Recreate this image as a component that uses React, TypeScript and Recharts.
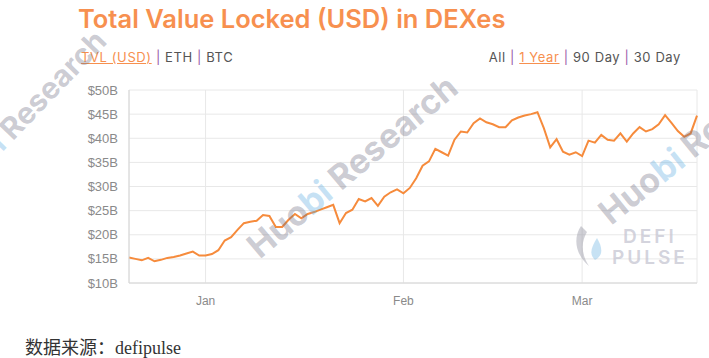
import { LineChart, Line, XAxis, YAxis, CartesianGrid } from 'recharts';

// TVL in billions USD, one reading per day starting 2020-12-20
const startDate = Date.UTC(2020, 11, 20);
const tvl = [
  15.3, 15.0, 14.7, 15.2, 14.5, 14.8, 15.2, 15.4, 15.7, 16.1, 16.5, 15.7,
  15.7, 16.0, 16.8, 18.8, 19.5, 21.0, 22.4, 22.7, 22.9, 24.1, 23.9, 21.6,
  21.6, 23.1, 24.3, 23.4, 24.3, 24.7, 25.2, 25.7, 26.2, 22.4, 24.5, 25.2,
  27.4, 26.9, 27.6, 26.0, 27.9, 28.8, 29.4, 28.6, 29.7, 31.7, 34.3, 35.2,
  37.8, 37.1, 36.4, 39.7, 41.4, 41.2, 43.1, 44.1, 43.3, 42.9, 42.3, 42.3,
  43.7, 44.3, 44.7, 45.0, 45.4, 42.1, 38.1, 39.8, 37.2, 36.6, 37.1, 36.3,
  39.5, 39.1, 40.7, 39.7, 39.5, 41.0, 39.3, 41.0, 42.3, 41.4, 41.9, 42.9,
  44.8, 43.2, 41.5, 40.3, 41.0, 44.7,
];
const monthTicks = [Date.UTC(2021, 0, 1), Date.UTC(2021, 1, 1), Date.UTC(2021, 2, 1)];
const monthLabels = ['Jan', 'Feb', 'Mar'];
const yTicks = [10, 15, 20, 25, 30, 35, 40, 45, 50];

const DAY = 86400000;
const data = tvl.map((v, i) => ({ t: startDate + i * DAY, tvl: v }));

const ORANGE = '#f7904f';
const PIPE = '#9a5aa8';

function Watermark({ x, y, size, angle }: { x: number; y: number; size: number; angle: number }) {
  return (
    <div
      style={{
        position: 'absolute',
        left: x,
        top: y,
        transform: `translate(-50%, -50%) rotate(${angle}deg)`,
        whiteSpace: 'nowrap',
        fontFamily: 'Inter, sans-serif',
        fontWeight: 700,
        fontSize: size,
        color: 'rgba(110, 110, 130, 0.36)',
        pointerEvents: 'none',
      }}
    >
      Huo<span style={{ color: 'rgba(90, 170, 225, 0.35)' }}>bi</span> Research
    </div>
  );
}

export default function App() {
  const link = { fontFamily: 'Inter, sans-serif', fontSize: 13, letterSpacing: 0.6, color: '#555' };
  return (
    <div style={{ position: 'fixed', left: 0, top: 0, width: 709, height: 358, background: '#fff', overflow: 'hidden' }}>
      <div
        style={{
          position: 'absolute',
          left: 78,
          top: 3,
          fontFamily: 'Inter, sans-serif',
          fontWeight: 600,
          fontSize: 25.5,
          color: ORANGE,
          whiteSpace: 'nowrap',
        }}
      >
        Total Value Locked (USD) in DEXes
      </div>
      <div style={{ position: 'absolute', left: 81, top: 49, whiteSpace: 'nowrap', ...link }}>
        <span style={{ color: ORANGE, textDecoration: 'underline' }}>TVL (USD)</span>
        <span style={{ color: PIPE }}> | </span>ETH<span style={{ color: PIPE }}> | </span>BTC
      </div>
      <div style={{ position: 'absolute', right: 28, top: 49, whiteSpace: 'nowrap', ...link }}>
        All<span style={{ color: PIPE }}> | </span>
        <span style={{ color: ORANGE, textDecoration: 'underline' }}>1 Year</span>
        <span style={{ color: PIPE }}> | </span>90 Day<span style={{ color: PIPE }}> | </span>30 Day
      </div>

      <div style={{ position: 'absolute', left: 0, top: 0 }}>
        <LineChart width={709} height={358} data={data} margin={{ top: 90, right: 12, bottom: 45, left: 0 }}>
          <CartesianGrid stroke="#e8e8e8" />
          <XAxis
            dataKey="t"
            type="number"
            domain={['dataMin', 'dataMax']}
            ticks={monthTicks}
            tickFormatter={(v: number) => monthLabels[monthTicks.indexOf(v)] ?? ''}
            tickLine={false}
            tickSize={8}
            tickMargin={5}
            height={30}
            axisLine={{ stroke: '#d6d6d6' }}
            tick={{ fill: '#8a8a8a', fontSize: 12, fontFamily: 'Liberation Sans, Arial, sans-serif' }}
          />
          <YAxis
            domain={[10, 50]}
            ticks={yTicks}
            width={129}
            tickLine={false}
            tickSize={6}
            tickMargin={5}
            axisLine={{ stroke: '#d6d6d6' }}
            tickFormatter={(v: number) => `$${v}B`}
            tick={{ fill: '#8a8a8a', fontSize: 13, fontFamily: 'Liberation Sans, Arial, sans-serif' }}
          />
          <Line
            type="linear"
            dataKey="tvl"
            stroke="#f68b3c"
            strokeWidth={2}
            dot={false}
            isAnimationActive={false}
          />
        </LineChart>
      </div>

      <div
        style={{
          position: 'absolute',
          left: 25,
          top: 333,
          fontFamily: '"Liberation Serif", "Noto Sans CJK SC", serif',
          fontSize: 18,
          color: '#333',
          whiteSpace: 'nowrap',
        }}
      >
        数据来源：defipulse
      </div>

      <Watermark x={20} y={118} size={30} angle={-46} />
      <Watermark x={352} y={166} size={34} angle={-40} />
      <Watermark x={705} y={134} size={34} angle={-39} />

      <svg width={34} height={44} style={{ position: 'absolute', left: 573, top: 224, pointerEvents: 'none' }}>
        <path d="M8 2 C0 14 2 30 16 42 C8 30 8 18 14 8 Z" fill="rgba(150, 150, 165, 0.45)" />
        <path d="M24 14 C18 24 16 30 22 36 C30 32 30 24 24 14 Z" fill="rgba(130, 190, 230, 0.45)" />
      </svg>
      <div
        style={{
          position: 'absolute',
          left: 612,
          top: 226,
          fontFamily: 'Inter, sans-serif',
          fontWeight: 600,
          fontSize: 19,
          letterSpacing: 3,
          lineHeight: '21px',
          color: 'rgba(200, 200, 212, 0.8)',
          textAlign: 'center',
          pointerEvents: 'none',
        }}
      >
        DEFI
        <br />
        PULSE
      </div>
    </div>
  );
}
